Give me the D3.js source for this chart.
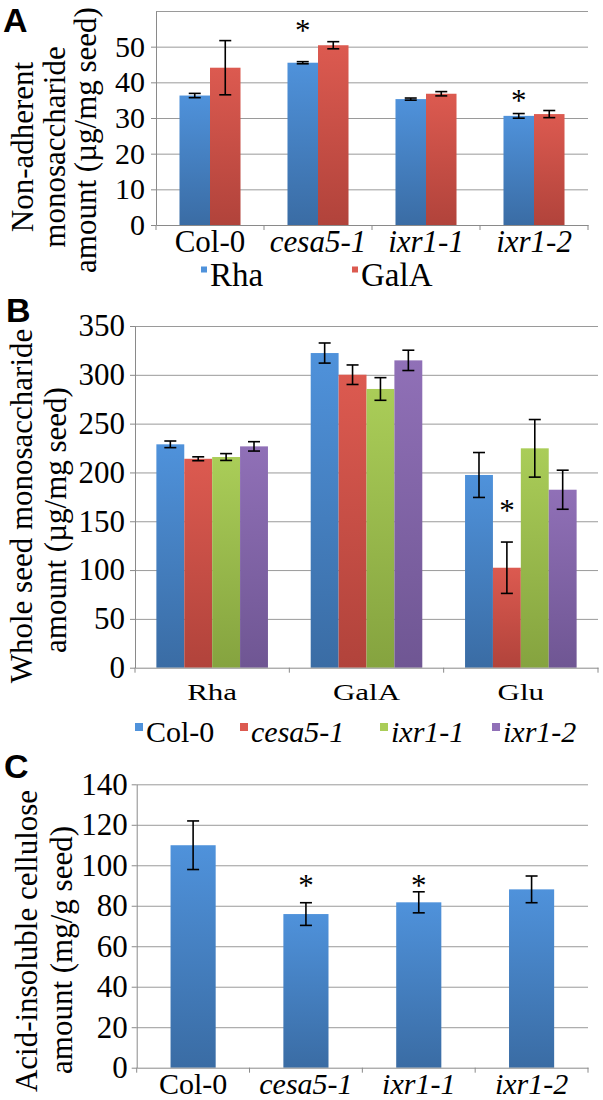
<!DOCTYPE html>
<html>
<head>
<meta charset="utf-8">
<script src="https://cdn.jsdelivr.net/npm/d3@7"></script>
<style>
  body { margin: 0; background: #fff; }
  text { font-family: "Liberation Serif", "Times New Roman", serif; }
</style>
</head>
<body>
<script>

// ---- data ----
var genotypes = ["Col-0", "cesa5-1", "ixr1-1", "ixr1-2"];

// A: non-adherent mucilage
var sugarsA = ["Rha", "GalA"];
var rhaA = [36.3, 45.5, 35.3, 30.6];
var rhaErrA = [0.6, 0.3, 0.3, 0.65];
var galaA = [44.1, 50.4, 36.8, 31.1];
var galaErrA = [7.6, 1.0, 0.6, 1.0];
var ticksA = [0, 10, 20, 30, 40, 50];
var maxA = 60;
var starsA = [{ group: "cesa5-1", key: "Rha", at: 55.5 }, { group: "ixr1-2", key: "Rha", at: 35.9 }];

// B: whole seed, per sugar
var sugarsB = ["Rha", "GalA", "Glu"];
var col0B = [228.8, 322.3, 197.4];
var col0ErrB = [3.4, 10.3, 23];
var cesaB = [214, 300.1, 102.4];
var cesaErrB = [2, 10, 26.3];
var ixr11B = [215.8, 285.5, 224.7];
var ixr11ErrB = [3.5, 11.6, 29.5];
var ixr12B = [226.7, 314.8, 182.3];
var ixr12ErrB = [4.8, 10.4, 20];
var ticksB = [0, 50, 100, 150, 200, 250, 300, 350];
var maxB = 350;
var starsB = [{ group: "Glu", key: "cesa5-1", at: 164.6 }];

// C: cellulose
var celluloseC = [109.9, 75.9, 81.7, 88.1];
var celluloseErrC = [12, 5.6, 5.2, 6.6];
var ticksC = [0, 20, 40, 60, 80, 100, 120, 140];
var maxC = 140;
var starsC = [{ group: "cesa5-1", key: "cell", at: 91.9 }, { group: "ixr1-1", key: "cell", at: 91.9 }];

// ---- drawing ----
var svg = d3.select("body").append("svg")
  .attr("width", 603)
  .attr("height", 1100);

var shades = {
  blue:   ["#4f92db", "#3a6ca4"],
  red:    ["#dc5a50", "#b1433b"],
  green:  ["#aacd58", "#85a33f"],
  purple: ["#9070b7", "#6f5693"]
};
var defs = svg.append("defs");
Object.keys(shades).forEach(function(k) {
  var lg = defs.append("linearGradient").attr("id", "g-" + k)
    .attr("x1", 0).attr("y1", 0).attr("x2", 0).attr("y2", 1);
  lg.append("stop").attr("offset", "0%").attr("stop-color", shades[k][0]);
  lg.append("stop").attr("offset", "100%").attr("stop-color", shades[k][1]);
});

var isItalic = function(d) { return genotypes.indexOf(d) > 0; };

function panel(o) {
  var g = svg.append("g");
  var y = d3.scaleLinear().domain([0, o.max]).range([o.bottom, o.top]);
  var x0 = d3.scaleBand().domain(o.groups).range([o.left, o.right])
    .paddingInner(o.pad).paddingOuter(o.pad / 2);
  var x1 = d3.scaleBand().domain(o.series.map(function(s) { return s.key; }))
    .range([0, x0.bandwidth()]);
  var w = o.right - o.left;

  // gridlines
  var grid = d3.range(o.ticks[1], o.max + 0.001, o.ticks[1]);
  g.append("g")
    .attr("transform", "translate(" + o.left + ",0)")
    .call(d3.axisLeft(y).tickValues(grid).tickSize(-w).tickFormat(""))
    .call(function(a) { a.select(".domain").remove(); })
    .selectAll("line").attr("stroke", "#9a9a9a");

  // bars
  o.series.forEach(function(s) {
    g.append("g").selectAll("rect")
      .data(s.values).join("rect")
      .attr("x", function(d, i) { return x0(o.groups[i]) + x1(s.key); })
      .attr("y", function(d) { return y(d); })
      .attr("width", x1.bandwidth())
      .attr("height", function(d) { return y(0) - y(d); })
      .attr("fill", "url(#g-" + s.color + ")");

    var eb = g.append("g").attr("stroke", "#000").attr("stroke-width", 1.6)
      .selectAll("g").data(s.values).join("g")
      .attr("transform", function(d, i) {
        return "translate(" + (x0(o.groups[i]) + x1(s.key) + x1.bandwidth() / 2) + ",0)";
      });
    eb.append("line")
      .attr("y1", function(d, i) { return y(d + s.errors[i]); })
      .attr("y2", function(d, i) { return y(d - s.errors[i]); });
    eb.append("line").attr("x1", -6).attr("x2", 6)
      .attr("y1", function(d, i) { return y(d + s.errors[i]); })
      .attr("y2", function(d, i) { return y(d + s.errors[i]); });
    eb.append("line").attr("x1", -6).attr("x2", 6)
      .attr("y1", function(d, i) { return y(d - s.errors[i]); })
      .attr("y2", function(d, i) { return y(d - s.errors[i]); });
  });

  // significance marks
  g.append("g").selectAll("text")
    .data(o.stars).join("text")
    .attr("x", function(d) { return x0(d.group) + x1(d.key) + x1.bandwidth() / 2; })
    .attr("y", function(d) { return y(d.at) + 14; })
    .attr("text-anchor", "middle")
    .attr("font-size", 31)
    .text("*");

  // y axis
  var ya = g.append("g")
    .attr("transform", "translate(" + o.left + ",0)")
    .call(d3.axisLeft(y).tickValues(o.ticks).tickSize(5).tickSizeOuter(0).tickPadding(o.tickPad));
  ya.selectAll("line, path").attr("stroke", "#8a8a8a");
  ya.selectAll("text").attr("font-size", o.tickFont).attr("fill", "#000");

  // x axis, labels centred in each band
  var xa = g.append("g")
    .attr("transform", "translate(0," + y(0) + ")")
    .call(d3.axisBottom(x0).tickSize(0).tickSizeOuter(0));
  xa.select(".domain").attr("stroke", "#8a8a8a");
  xa.selectAll("text")
    .attr("font-size", o.labelFont)
    .attr("fill", "#000")
    .attr("font-style", function(d) { return isItalic(d) ? "italic" : null; })
    .attr("dy", 0)
    .attr("y", o.labelBase / o.squash)
    .attr("transform", o.squash !== 1 ? "scale(1," + o.squash + ")" : null);
  // boundary ticks (Excel style)
  xa.append("g").selectAll("line")
    .data(d3.range(o.groups.length + 1)).join("line")
    .attr("x1", function(i) { return o.left + i * x0.step(); })
    .attr("x2", function(i) { return o.left + i * x0.step(); })
    .attr("y1", 0).attr("y2", 5)
    .attr("stroke", "#8a8a8a");

  // y title
  o.title.forEach(function(t) {
    g.append("text")
      .attr("transform", "translate(" + t.x + "," + t.cy + ") rotate(-90)")
      .attr("text-anchor", "middle")
      .attr("font-size", 31)
      .text(t.text);
  });

  // panel letter
  svg.append("text")
    .attr("x", o.letter[1]).attr("y", o.letter[2])
    .style("font-family", "'Liberation Sans', Arial, sans-serif")
    .attr("font-weight", "bold")
    .attr("font-size", 34)
    .text(o.letter[0]);
}

function legend(items, base, size, font) {
  var lg = svg.append("g").selectAll("g").data(items).join("g");
  lg.append("rect")
    .attr("x", function(d) { return d.x; })
    .attr("y", base - font * 0.5 - size / 2)
    .attr("width", size).attr("height", size)
    .attr("fill", function(d) { return shades[d.color][0]; });
  lg.append("text")
    .attr("x", function(d) { return d.x + size + 3; })
    .attr("y", base)
    .attr("font-size", font)
    .attr("font-style", function(d) { return isItalic(d.key) ? "italic" : null; })
    .text(function(d) { return d.key; });
}

// Panel A
panel({
  top: 11, bottom: 225, left: 156, right: 588, max: maxA, ticks: ticksA,
  groups: genotypes, pad: 0.435, tickPad: 6, tickFont: 30, labelFont: 31,
  labelBase: 27, squash: 1,
  series: [
    { key: "Rha", values: rhaA, errors: rhaErrA, color: "blue" },
    { key: "GalA", values: galaA, errors: galaErrA, color: "red" }
  ],
  stars: starsA,
  title: [
    { text: "Non-adherent", x: 33, cy: 147 },
    { text: "monosaccharide", x: 65, cy: 147 },
    { text: "amount (\u00b5g/mg seed)", x: 96, cy: 140 }
  ],
  letter: ["A", 3, 32]
});
legend([
  { key: sugarsA[0], color: "blue", x: 201 },
  { key: sugarsA[1], color: "red", x: 352 }
], 286, 6, 33);

// Panel B
var colorsB = ["blue", "red", "green", "purple"];
var valsB = [col0B, cesaB, ixr11B, ixr12B];
var errsB = [col0ErrB, cesaErrB, ixr11ErrB, ixr12ErrB];
panel({
  top: 326, bottom: 667.7, left: 135, right: 598, max: maxB, ticks: ticksB,
  groups: sugarsB, pad: 0.277, tickPad: 5, tickFont: 31, labelFont: 31,
  labelBase: 32, squash: 0.74,
  series: genotypes.map(function(gt, i) {
    return { key: gt, values: valsB[i], errors: errsB[i], color: colorsB[i] };
  }),
  stars: starsB,
  title: [
    { text: "Whole seed monosaccharide", x: 32, cy: 506 },
    { text: "amount (\u00b5g/mg seed)", x: 66, cy: 520 }
  ],
  letter: ["B", 6, 322]
});
legend(genotypes.map(function(gt, i) {
  return { key: gt, color: colorsB[i], x: [135, 240, 380, 492][i] };
}), 742, 8, 30);

// Panel C
panel({
  top: 784.3, bottom: 1067.7, left: 136.7, right: 588, max: maxC, ticks: ticksC,
  groups: genotypes, pad: 0.6, tickPad: 4, tickFont: 31, labelFont: 30,
  labelBase: 26, squash: 1,
  series: [{ key: "cell", values: celluloseC, errors: celluloseErrC, color: "blue" }],
  stars: starsC,
  title: [
    { text: "Acid-insoluble cellulose", x: 37, cy: 941 },
    { text: "amount (mg/g seed)", x: 72, cy: 950 }
  ],
  letter: ["C", 4, 778]
});

</script>
</body>
</html>
